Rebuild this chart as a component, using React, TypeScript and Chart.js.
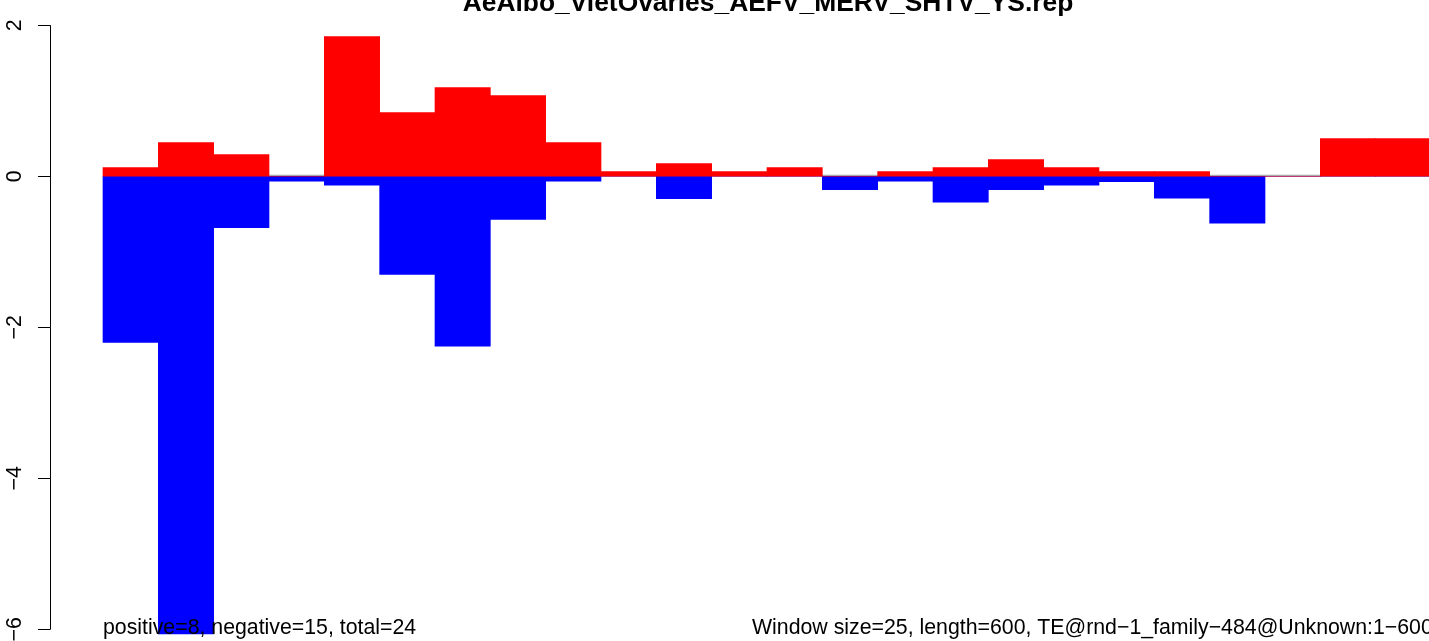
import React, { useEffect, useRef } from "react";
import { Chart, registerables } from "chart.js";

Chart.register(...registerables);

// Window labels (25 bp windows over a 600 bp element)
const windowLabels = [
  "1-25", "26-50", "51-75", "76-100", "101-125", "126-150", "151-175", "176-200",
  "201-225", "226-250", "251-275", "276-300", "301-325", "326-350", "351-375", "376-400",
  "401-425", "426-450", "451-475", "476-500", "501-525", "526-550", "551-575", "576-600",
];

// Positive-strand coverage (red)
const positiveValues = [
  0.115, 0.446, 0.287, 0, 1.85, 0.844, 1.175, 1.07,
  0.446, 0.062, 0.168, 0.062, 0.115, 0, 0.062, 0.115,
  0.221, 0.115, 0.062, 0.062, 0, 0, 0.5, 0.5,
];

// Negative-strand coverage (blue)
const negativeValues = [
  -2.2, -6.06, -0.68, -0.066, -0.119, -1.3, -2.25, -0.57,
  -0.066, 0, -0.295, 0, 0, -0.176, -0.066, -0.344,
  -0.176, -0.119, -0.07, -0.29, -0.62, 0, 0, 0,
];

const yTicks = [2, 0, -2, -4, -6];
const yTickLabels = ["2", "0", "\u22122", "\u22124", "\u22126"];

const titleText = "AeAlbo_VietOvaries_AEFV_MERV_SHTV_YS.rep";
const leftNote = "positive=8, negative=15, total=24";
const rightNote = "Window size=25, length=600, TE@rnd\u22121_family\u2212484@Unknown:1\u2212600";

const W = 1429;
const H = 641;

export default function App() {
  const ref = useRef<HTMLCanvasElement | null>(null);

  useEffect(() => {
    const canvas = ref.current;
    if (!canvas) return;
    document.body.style.margin = "0";
    document.body.style.overflow = "hidden";

    const toPts = (vals: number[]) => vals.map((v, i) => ({ x: i + 0.5, y: v }));

    const decor = {
      id: "rdecor",
      beforeDatasetsDraw(chart: any) {
        const { ctx, scales } = chart;
        const x = scales.x;
        const y = scales.y;
        ctx.save();
        ctx.strokeStyle = "#a8a8a8";
        ctx.lineWidth = 1.5;
        ctx.beginPath();
        const y0 = y.getPixelForValue(0) - 0.7;
        ctx.moveTo(x.getPixelForValue(0), y0);
        ctx.lineTo(x.getPixelForValue(windowLabels.length), y0);
        ctx.stroke();
        ctx.restore();
      },
      afterDraw(chart: any) {
        const { ctx, scales } = chart;
        const y = scales.y;
        ctx.save();
        // y axis
        const axX = 50.5;
        ctx.strokeStyle = "#000";
        ctx.lineWidth = 1;
        ctx.beginPath();
        ctx.moveTo(axX, y.getPixelForValue(yTicks[0]));
        ctx.lineTo(axX, y.getPixelForValue(yTicks[yTicks.length - 1]));
        yTicks.forEach((t) => {
          const py = Math.round(y.getPixelForValue(t)) + 0.5;
          ctx.moveTo(axX, py);
          ctx.lineTo(38, py);
        });
        ctx.stroke();
        // tick labels rotated
        ctx.fillStyle = "#000";
        ctx.font = "21.3px 'Liberation Sans', Arial, sans-serif";
        ctx.textAlign = "center";
        ctx.textBaseline = "alphabetic";
        yTicks.forEach((t, i) => {
          const py = y.getPixelForValue(t);
          ctx.save();
          ctx.translate(21, py);
          ctx.rotate(-Math.PI / 2);
          ctx.fillText(yTickLabels[i], 0, 0);
          ctx.restore();
        });
        // title
        ctx.font = "bold 26.4px 'Liberation Sans', Arial, sans-serif";
        ctx.textAlign = "center";
        ctx.fillText(titleText, 768, 11);
        // notes
        ctx.font = "21.3px 'Liberation Sans', Arial, sans-serif";
        ctx.textAlign = "left";
        ctx.fillText(leftNote, 103, 634);
        ctx.fillText(rightNote, 752, 634);
        ctx.restore();
      },
    };

    const chart = new Chart(canvas, {
      type: "bar",
      data: {
        labels: windowLabels,
        datasets: [
          {
            label: "positive",
            data: toPts(positiveValues) as any,
            backgroundColor: "#ff0000",
            borderWidth: 0,
            barPercentage: 1,
            categoryPercentage: 1,
            grouped: false,
          } as any,
          {
            label: "negative",
            data: toPts(negativeValues) as any,
            backgroundColor: "#0000ff",
            borderWidth: 0,
            barPercentage: 1,
            categoryPercentage: 1,
            grouped: false,
          } as any,
        ],
      },
      options: {
        responsive: false,
        animation: false,
        layout: { padding: 0 },
        plugins: {
          legend: { display: false },
          title: { display: false },
          tooltip: { enabled: false },
        },
        scales: {
          x: { type: "linear", display: false, offset: false, min: -1.8614, max: 23.964 },
          y: { type: "linear", display: false, min: -6.155, max: 2.335 },
        },
      },
      plugins: [decor],
    });

    return () => chart.destroy();
  }, []);

  return (
    <div style={{ position: "fixed", left: 0, top: 0, width: W, height: H, background: "#fff" }}>
      <canvas ref={ref} width={W} height={H} style={{ display: "block", width: W, height: H }} />
    </div>
  );
}
